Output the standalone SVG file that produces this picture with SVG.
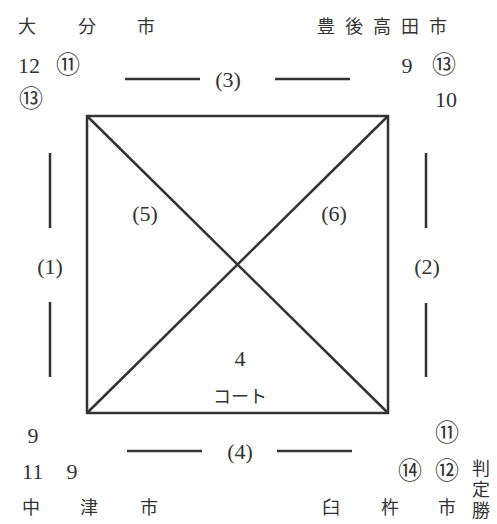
<svg xmlns="http://www.w3.org/2000/svg" width="497" height="524" viewBox="0 0 497 524">
<style>
.n{font-family:"Liberation Serif","DejaVu Serif",serif;font-size:22px;fill:#333}
.c{font-family:"Noto Sans CJK JP","DejaVu Sans",sans-serif;font-size:24px;fill:#333}
.j{font-family:"Noto Sans CJK JP","Noto Sans",sans-serif;font-size:18px;fill:#333}
.l{stroke:#333;stroke-width:2.5;fill:none}
</style>
<rect width="497" height="524" fill="#fff"/>
<g id="court">
<rect class="l" x="87" y="116" width="301" height="297"/>
<text class="n" x="240" y="366" text-anchor="middle">4</text>
<text class="j" x="240" y="403" text-anchor="middle">コート</text>
</g>
<g id="connectors">
<line class="l" x1="87" y1="116" x2="388" y2="413"/>
<line class="l" x1="388" y1="116" x2="87" y2="413"/>
<line class="l" x1="50" y1="153" x2="50" y2="228"/>
<line class="l" x1="50" y1="302" x2="50" y2="377"/>
<line class="l" x1="426" y1="153" x2="426" y2="228"/>
<line class="l" x1="426" y1="303" x2="426" y2="377"/>
<line class="l" x1="125" y1="79" x2="200" y2="79"/>
<line class="l" x1="275" y1="79" x2="350" y2="79"/>
<line class="l" x1="127" y1="451" x2="202" y2="451"/>
<line class="l" x1="277" y1="451" x2="352" y2="451"/>
<text class="n" x="50" y="274" text-anchor="middle">(1)</text>
<text class="n" x="427" y="274" text-anchor="middle">(2)</text>
<text class="n" x="228" y="87" text-anchor="middle">(3)</text>
<text class="n" x="240" y="459" text-anchor="middle">(4)</text>
<text class="n" x="145" y="221" text-anchor="middle">(5)</text>
<text class="n" x="334" y="221" text-anchor="middle">(6)</text>
</g>
<g id="oita">
<text class="j" x="18" y="33">大</text>
<text class="j" x="78" y="33">分</text>
<text class="j" x="137" y="33">市</text>
<text class="n" x="18" y="73">12</text>
<text class="c" x="68" y="73" text-anchor="middle">⑪</text>
<text class="c" x="31" y="107" text-anchor="middle">⑬</text>
</g>
<g id="bungotakada">
<text class="j" x="457" y="33" text-anchor="end" letter-spacing="10">豊後高田市</text>
<text class="n" x="407" y="73" text-anchor="middle">9</text>
<text class="c" x="444" y="73" text-anchor="middle">⑬</text>
<text class="n" x="457" y="107" text-anchor="end">10</text>
</g>
<g id="nakatsu">
<text class="n" x="33" y="443" text-anchor="middle">9</text>
<text class="n" x="22" y="479">11</text>
<text class="n" x="72" y="479" text-anchor="middle">9</text>
<text class="j" x="22" y="514">中</text>
<text class="j" x="80" y="514">津</text>
<text class="j" x="140" y="514">市</text>
</g>
<g id="usuki">
<text class="c" x="447" y="441" text-anchor="middle">⑪</text>
<text class="c" x="410" y="479" text-anchor="middle">⑭</text>
<text class="c" x="447" y="479" text-anchor="middle">⑫</text>
<text class="j" x="322" y="514">臼</text>
<text class="j" x="381" y="514">杵</text>
<text class="j" x="438" y="514">市</text>
<text class="j" x="481" y="459" writing-mode="vertical-rl" letter-spacing="3">判定勝</text>
</g>
</svg>
